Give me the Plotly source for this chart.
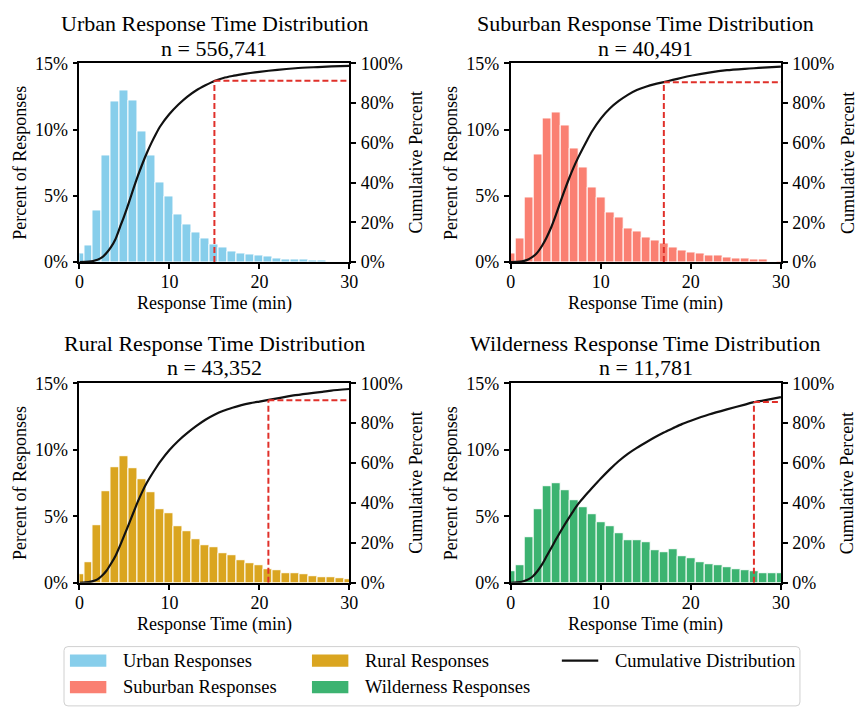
import plotly.graph_objects as go

W, H = 866, 712

# ---------------- data ----------------
time_bins = [0, 1, 2, 3, 4, 5, 6, 7, 8, 9, 10, 11, 12, 13, 14, 15, 16, 17, 18, 19,
             20, 21, 22, 23, 24, 25, 26, 27, 28, 29, 30]

urban_pct = [0.68, 1.27, 3.91, 8.02, 12.13, 12.93, 12.2, 9.83, 8.02, 6.04, 4.94, 3.62,
             2.81, 2.22, 1.78, 1.34, 1.12, 0.83, 0.68, 0.54, 0.46, 0.39, 0.24, 0.17,
             0.17, 0.17, 0.10, 0.10, 0.0, 0.0, 0.0]
suburban_pct = [0.61, 1.76, 4.84, 8.10, 10.81, 11.33, 10.30, 8.61, 7.12, 5.60, 4.84, 3.77,
                3.40, 2.52, 2.30, 1.86, 1.64, 1.42, 1.13, 0.91, 0.76, 0.61, 0.46, 0.46,
                0.32, 0.24, 0.24, 0.17, 0.17, 0.0, 0.07]
rural_pct = [0.61, 1.56, 4.33, 6.89, 8.72, 9.52, 8.64, 7.77, 6.82, 5.50, 5.21, 4.26,
             3.90, 3.31, 2.80, 2.65, 2.22, 2.07, 1.70, 1.49, 1.34, 1.05, 0.97, 0.75,
             0.68, 0.61, 0.46, 0.39, 0.39, 0.32, 0.24]
wilderness_pct = [0.90, 1.34, 3.46, 5.50, 7.26, 7.47, 6.96, 6.23, 5.65, 5.14, 4.55, 4.26,
                  3.75, 3.17, 3.17, 3.02, 2.43, 2.29, 2.51, 2.00, 1.85, 1.56, 1.41, 1.34,
                  1.19, 1.05, 0.97, 0.83, 0.75, 0.68, 0.68]

cdf_minutes = [0, 1, 1.5, 2, 2.5, 3, 3.5, 4, 4.5, 5, 5.5, 6, 6.5, 7, 7.5, 8, 8.5, 9,
               10, 11, 12, 13, 14, 15, 16, 17, 18, 19, 20, 22, 24, 26, 27, 28, 30]
urban_cdf = [0, 0.2, 0.5, 1.1, 2.3, 4.5, 7.5, 11.5, 17.5, 23.5, 30, 37, 43.5, 49.5, 55,
             60, 64.5, 68.5, 74.5, 79.3, 83.3, 86.5, 89.0, 91.2, 92.7, 93.7, 94.5, 95.2,
             95.8, 96.8, 97.6, 98.1, 98.3, 98.5, 98.8]
suburban_cdf = [0, 0.2, 0.6, 1.4, 2.8, 5.0, 8.3, 12.5, 17.5, 23.5, 30, 36.3, 42.3, 47.8,
                52.7, 57.2, 61.5, 65.6, 72.2, 77.3, 81.1, 84.2, 86.6, 88.3, 89.6, 90.6,
                91.7, 92.8, 93.8, 95.4, 96.6, 97.3, 97.6, 97.9, 98.4]
rural_cdf = [0, 0.3, 0.8, 1.7, 3.5, 6.0, 9.5, 13.4, 18.5, 24, 29.5, 35.2, 40.8, 45.8,
             50.2, 54.0, 57.5, 60.8, 66.5, 71.2, 75.1, 78.6, 81.7, 84.2, 86.2, 87.7,
             89.0, 90.0, 90.8, 92.4, 94.0, 95.2, 95.7, 96.3, 97.1]
wilderness_cdf = [0, 0.3, 0.9, 1.8, 3.4, 6.0, 9.3, 13.4, 17.4, 21.5, 25.4, 29.2, 32.8,
                  36.3, 39.5, 42.2, 44.8, 47.3, 52.2, 56.8, 61.0, 64.6, 67.6, 70.3, 72.9,
                  75.3, 77.4, 79.5, 81.2, 84.3, 86.9, 89.3, 90.5, 91.3, 93.0]

region_names = ["Urban", "Suburban", "Rural", "Wilderness"]
region_counts = ["556,741", "40,491", "43,352", "11,781"]
threshold_minutes = [15, 17, 21, 27]
threshold_pct = [91.3, 90.5, 91.4, 90.6]

left_ticks = [0, 5, 10, 15]
left_ticktext = ["0%", "5%", "10%", "15%"]
right_ticks = [0, 20, 40, 60, 80, 100]
right_ticktext = ["0%", "20%", "40%", "60%", "80%", "100%"]
x_ticks = [0, 10, 20, 30]

bar_colors = ["#87CEEB", "#FA8072", "#DAA520", "#3CB371"]
pct_series = [urban_pct, suburban_pct, rural_pct, wilderness_pct]
cdf_series = [urban_cdf, suburban_cdf, rural_cdf, wilderness_cdf]

# ---------------- layout helpers ----------------
FONT = "Liberation Serif"
RED = "#e0302a"


def fx(p):
    return p / W


def fy(p):
    return 1 - p / H


panels = [(75.7, 350.0, 55.0, 259.3), (514.0, 788.7, 55.0, 259.3),
          (75.7, 350.0, 384.0, 589.3), (514.0, 788.7, 384.0, 589.3)]

fig = go.Figure()
layout = dict(
    width=W, height=H, margin=dict(l=0, r=0, t=0, b=0),
    paper_bgcolor="white", plot_bgcolor="white", showlegend=False,
    font=dict(family=FONT, size=18, color="black"), bargap=0,
)
annotations = []
shapes = []

for i in range(4):
    l, r, t, b = panels[i]
    xa = "x" if i == 0 else f"x{i + 1}"
    ya = f"y{2 * i + 1}" if i > 0 else "y"
    yb = f"y{2 * i + 2}"
    xkey = "xaxis" if i == 0 else f"xaxis{i + 1}"
    ykey = "yaxis" if i == 0 else f"yaxis{2 * i + 1}"
    ykey2 = f"yaxis{2 * i + 2}"

    layout[xkey] = dict(
        domain=[fx(l), fx(r)], anchor=ya, range=[0, 30], tickvals=x_ticks,
        ticks="outside", ticklen=5, tickwidth=1.6, tickcolor="black",
        showline=True, linecolor="black", linewidth=1.6, mirror=True,
        showgrid=False, zeroline=False, tickfont=dict(size=18, family=FONT),
        ticklabelstandoff=-2,
    )
    layout[ykey] = dict(
        domain=[fy(b), fy(t)], anchor=xa, range=[0, 15], tickvals=left_ticks,
        ticktext=left_ticktext, ticks="outside", ticklen=5, tickwidth=1.6,
        tickcolor="black", showline=True, linecolor="black", linewidth=1.6,
        showgrid=False, zeroline=False, tickfont=dict(size=18, family=FONT),
        ticklabelstandoff=1,
    )
    layout[ykey2] = dict(
        domain=[fy(b), fy(t)], anchor=xa, overlaying=ya, side="right",
        range=[0, 100], tickvals=right_ticks, ticktext=right_ticktext,
        ticks="outside", ticklen=5, tickwidth=1.6, tickcolor="black",
        showline=True, linecolor="black", linewidth=1.6, showgrid=False,
        zeroline=False, tickfont=dict(size=18, family=FONT), ticklabelstandoff=1,
    )

    fig.add_trace(go.Bar(
        x=time_bins, y=pct_series[i], width=1, xaxis=xa, yaxis=ya,
        marker=dict(color=bar_colors[i], line=dict(color="white", width=1)),
        name=f"{region_names[i]} Responses",
    ))
    fig.add_trace(go.Scatter(
        x=cdf_minutes, y=cdf_series[i], xaxis=xa, yaxis=yb, mode="lines",
        line=dict(color="#111111", width=2.2, shape="spline", smoothing=0.6),
        name="Cumulative Distribution",
    ))
    thr = threshold_minutes[i]
    tp = threshold_pct[i]
    fig.add_trace(go.Scatter(
        x=[thr, thr], y=[0, tp], xaxis=xa, yaxis=yb, mode="lines",
        line=dict(color=RED, width=2, dash="6px,3px"), hoverinfo="skip",
    ))
    fig.add_trace(go.Scatter(
        x=[thr, 30], y=[tp, tp], xaxis=xa, yaxis=yb, mode="lines",
        line=dict(color=RED, width=2, dash="6px,3px"), hoverinfo="skip",
    ))

    cx = (l + r) / 2
    annotations.append(dict(
        text=f"{region_names[i]} Response Time Distribution", x=fx(cx), y=fy(t - 40.8),
        xref="paper", yref="paper", xanchor="center", yanchor="middle",
        showarrow=False, font=dict(size=22, family=FONT),
    ))
    annotations.append(dict(
        text=f"n = {region_counts[i]}", x=fx(cx), y=fy(t - 15.9),
        xref="paper", yref="paper", xanchor="center", yanchor="middle",
        showarrow=False, font=dict(size=22, family=FONT),
    ))
    annotations.append(dict(
        text="Response Time (min)", x=fx(cx), y=fy(b + 42.5),
        xref="paper", yref="paper", xanchor="center", yanchor="middle",
        showarrow=False, font=dict(size=18, family=FONT),
    ))
    annotations.append(dict(
        text="Percent of Responses", x=fx(l - 60.5), y=fy((t + b) / 2),
        xref="paper", yref="paper", xanchor="center", yanchor="middle",
        textangle=-90, showarrow=False, font=dict(size=18, family=FONT),
    ))
    annotations.append(dict(
        text="Cumulative Percent", x=fx(r + 67.5), y=fy((t + b) / 2),
        xref="paper", yref="paper", xanchor="center", yanchor="middle",
        textangle=-90, showarrow=False, font=dict(size=18, family=FONT),
    ))

# ---------------- legend (drawn) ----------------
lx0, lx1, ly0, ly1 = 60, 808, 655, 716
rx, ry = 4 / W, 4 / H
X0, X1, Y0, Y1 = fx(lx0), fx(lx1), fy(ly0), fy(ly1)
path = (f"M {X0 + rx},{Y0} L {X1 - rx},{Y0} Q {X1},{Y0} {X1},{Y0 - ry} "
        f"L {X1},{Y1 + ry} Q {X1},{Y1} {X1 - rx},{Y1} L {X0 + rx},{Y1} "
        f"Q {X0},{Y1} {X0},{Y1 + ry} L {X0},{Y0 - ry} Q {X0},{Y0} {X0 + rx},{Y0} Z")
shapes.append(dict(type="path", path=path, xref="paper", yref="paper",
                   line=dict(color="#d0d0d0", width=1), fillcolor="white", layer="below"))

legend_labels = ["Urban Responses", "Suburban Responses", "Rural Responses",
                 "Wilderness Responses", "Cumulative Distribution"]
legend_pos = [(66, 669.5), (66, 696.7), (312, 669.5), (312, 696.7), (566, 669.5)]
for k, lab in enumerate(legend_labels):
    px0, pyc = legend_pos[k]
    if k < 4:
        shapes.append(dict(type="rect", xref="paper", yref="paper",
                           x0=fx(px0), x1=fx(px0 + 37), y0=fy(pyc + 6.3), y1=fy(pyc - 6.3),
                           fillcolor=bar_colors[k], line=dict(width=0)))
    else:
        shapes.append(dict(type="line", xref="paper", yref="paper",
                           x0=fx(px0), x1=fx(px0 + 37), y0=fy(pyc), y1=fy(pyc),
                           line=dict(color="#111111", width=2.2)))
    annotations.append(dict(
        text=lab, x=fx(px0 + 52), y=fy(pyc), xref="paper", yref="paper",
        xanchor="left", yanchor="middle", showarrow=False,
        font=dict(size=18.5, family=FONT),
    ))

layout["annotations"] = annotations
layout["shapes"] = shapes
fig.update_layout(**layout)
fig.write_html(
    "out.html",
    post_script="document.body.style.margin='0px';document.body.style.padding='0px';",
)
